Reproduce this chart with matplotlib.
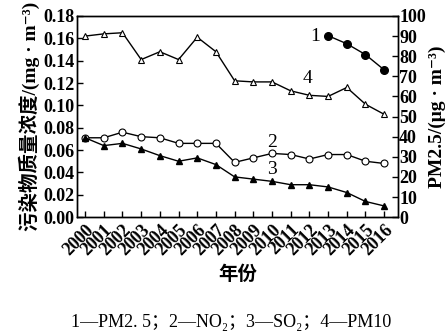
import matplotlib
matplotlib.use('Agg')
import matplotlib.pyplot as plt
import numpy as np

plt.rcParams['font.family'] = ['Liberation Serif', 'DejaVu Serif', 'Noto Sans CJK SC']

years = np.arange(2000, 2017)
pm10 = [0.162, 0.164, 0.165, 0.141, 0.148, 0.141, 0.161, 0.148, 0.122,
        0.121, 0.121, 0.113, 0.109, 0.108, 0.116, 0.101, 0.092]
no2 = [0.071, 0.071, 0.076, 0.072, 0.071, 0.066, 0.066, 0.066, 0.049,
       0.053, 0.057, 0.056, 0.052, 0.056, 0.056, 0.050, 0.048]
so2 = [0.071, 0.064, 0.066, 0.061, 0.055, 0.050, 0.053, 0.047, 0.036,
       0.034, 0.032, 0.029, 0.029, 0.027, 0.022, 0.014, 0.010]
pm25_years = [2013, 2014, 2015, 2016]
pm25 = [90.2, 86.2, 80.8, 73.2]

fig = plt.figure(figsize=(4.48, 3.33), dpi=100)
ax = fig.add_axes([0.172, 0.348, 0.716, 0.604])
ax2 = ax.twinx()

ax.plot(years, pm10, color='black', lw=1, marker='^', ms=5,
        mfc='white', mec='black', mew=0.8)
ax.plot(years, no2, color='black', lw=1, marker='o', ms=5,
        mfc='white', mec='black', mew=0.8)
ax.plot(years, so2, color='black', lw=1, marker='^', ms=5,
        mfc='black', mec='black')
ax2.plot(pm25_years, pm25, color='black', lw=1, marker='o', ms=5.5,
         mfc='black', mec='black')

ax.set_xlim(1999.57, 2016.73)
ax.set_ylim(0, 0.18)
ax.set_yticks(np.arange(0, 0.181, 0.02))
ax.set_yticklabels(['%.2f' % v for v in np.arange(0, 0.181, 0.02)])
ax2.set_ylim(0, 100)
ax2.set_yticks(np.arange(0, 101, 10))

ax.set_xticks(years)
ax.set_xticklabels([str(y) for y in years], rotation=45, ha='right',
                   rotation_mode='anchor')

for a in (ax, ax2):
    a.tick_params(direction='in', length=4, width=1, labelsize=13)
    for lab in a.get_xticklabels() + a.get_yticklabels():
        lab.set_fontweight('bold')
    for s in a.spines.values():
        s.set_linewidth(1)
ax.tick_params(axis='x', pad=3)
ax.tick_params(axis='y', pad=2)
ax2.tick_params(axis='y', pad=1)

ax.set_ylabel('污染物质量浓度/(mg · m⁻³)', fontsize=14, fontweight='bold',
              labelpad=2)
ax2.set_ylabel('PM2.5/(μg · m⁻³)', fontsize=14, fontweight='bold',
               labelpad=2)
ax.set_xlabel('年份', fontsize=14, fontweight='bold', labelpad=5)

ax.text(2012.3, 0.162, '1', fontsize=14, ha='center', va='center')
ax.text(2011.9, 0.124, '4', fontsize=14, ha='center', va='center')
ax.text(2010.0, 0.0672, '2', fontsize=14, ha='center', va='center')
ax.text(2010.0, 0.0426, '3', fontsize=14, ha='center', va='center')

fig.text(0.515, 0.005, '1—PM2. 5；2—NO₂；3—SO₂；4—PM10',
         fontsize=13, ha='center', va='bottom')

fig.savefig('out.png', dpi=100)
